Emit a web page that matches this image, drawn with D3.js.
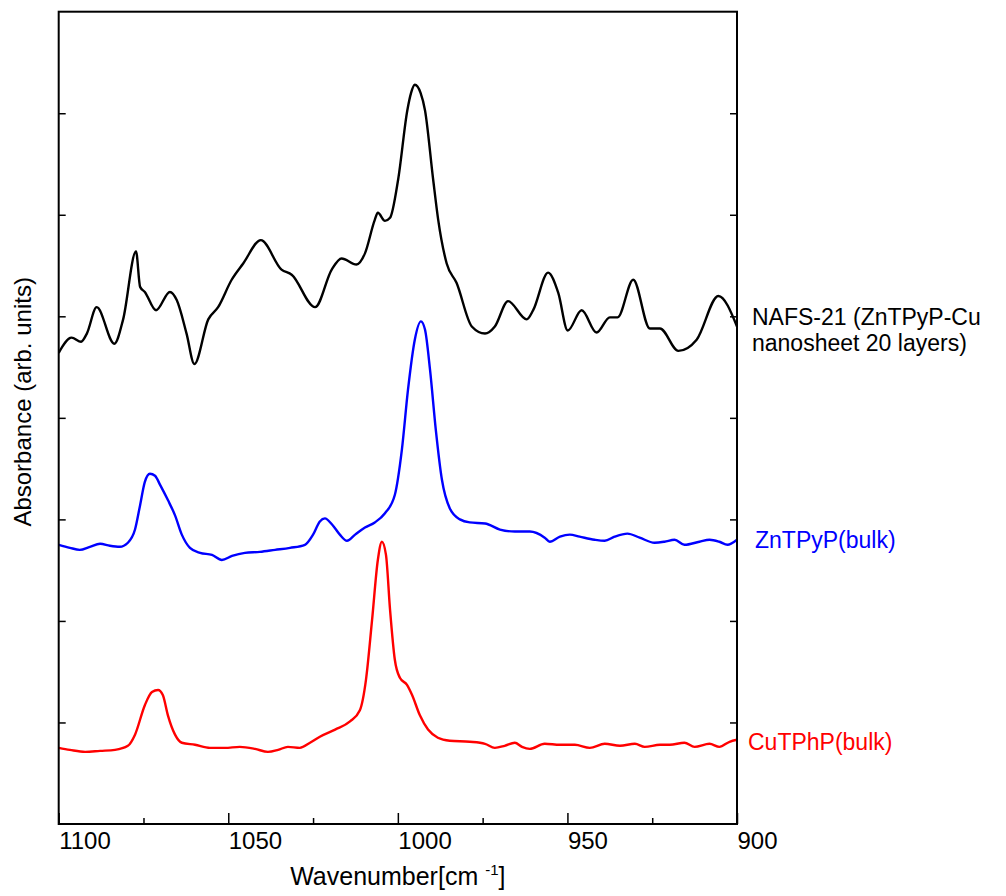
<!DOCTYPE html>
<html>
<head>
<meta charset="utf-8">
<script src="https://cdn.jsdelivr.net/npm/d3@7"></script>
<style>
  body { margin: 0; background: #fff; }
  text { font-family: "Liberation Sans", Arial, sans-serif; }
</style>
</head>
<body>
<svg id="chart" width="1006" height="896"></svg>
<script>
// wavenumber [cm-1], absorbance (arb. units, offset traces)
const nafsData = [
  [1100.0, 4.64], [1096.2, 4.79], [1093.4, 4.75], [1091.7, 4.83], [1088.8, 5.09],
  [1083.6, 4.73], [1081.0, 4.97], [1077.2, 5.64], [1076.0, 5.29], [1074.6, 5.24],
  [1071.3, 5.06], [1067.2, 5.24], [1065.2, 5.16], [1062.3, 4.83], [1060.0, 4.53],
  [1055.9, 4.97], [1053.0, 5.09], [1049.0, 5.36], [1045.6, 5.52], [1040.4, 5.75],
  [1034.3, 5.46], [1031.3, 5.41], [1024.4, 5.09], [1019.5, 5.46], [1016.6, 5.57],
  [1012.2, 5.51], [1009.7, 5.62], [1006.8, 5.95], [1005.9, 6.02], [1003.8, 5.94],
  [1002.3, 5.97], [999.9, 6.35], [997.2, 7.03], [996.1, 7.20], [995.0, 7.28],
  [993.3, 7.20], [992.0, 7.03], [989.6, 6.35], [988.1, 5.95], [985.6, 5.52],
  [982.7, 5.33], [978.2, 4.90], [974.3, 4.83], [971.4, 4.90], [967.5, 5.15],
  [962.0, 4.97], [960.1, 5.06], [955.7, 5.43], [952.7, 5.23], [949.9, 4.86],
  [945.8, 5.06], [941.4, 4.84], [937.5, 4.99], [935.2, 4.99], [930.6, 5.36],
  [925.7, 4.88], [922.7, 4.88], [917.3, 4.66], [911.9, 4.77], [905.5, 5.20],
  [900.0, 4.90]
]

const znData = [
  [1100.0, 2.75], [1096.7, 2.72], [1093.8, 2.70], [1090.8, 2.73], [1087.8, 2.76],
  [1084.9, 2.74], [1082.0, 2.73], [1079.6, 2.77], [1077.5, 2.90], [1076.0, 3.14],
  [1074.6, 3.37], [1073.1, 3.45], [1071.6, 3.43], [1070.1, 3.34], [1067.8, 3.19],
  [1065.7, 3.04], [1063.7, 2.85], [1061.3, 2.72], [1058.3, 2.67], [1054.8, 2.65],
  [1051.9, 2.60], [1048.9, 2.64], [1045.1, 2.67], [1040.7, 2.68], [1036.2, 2.70],
  [1031.8, 2.72], [1027.4, 2.75], [1025.0, 2.85], [1023.0, 2.98], [1021.5, 3.01],
  [1019.4, 2.95], [1017.1, 2.85], [1015.0, 2.79], [1012.6, 2.85], [1009.7, 2.92],
  [1006.8, 2.97], [1003.8, 3.06], [1000.9, 3.24], [998.8, 3.69], [997.0, 4.28],
  [995.0, 4.77], [993.2, 4.95], [992.0, 4.87], [990.5, 4.47], [988.8, 3.88],
  [987.0, 3.39], [984.7, 3.11], [981.7, 3.00], [978.8, 2.97], [974.3, 2.96],
  [969.9, 2.90], [965.5, 2.88], [961.1, 2.88], [956.7, 2.82], [955.2, 2.78],
  [952.2, 2.83], [949.3, 2.85], [946.4, 2.83], [942.0, 2.80], [939.0, 2.79],
  [936.1, 2.83], [932.3, 2.86], [928.7, 2.82], [924.3, 2.77], [921.4, 2.78],
  [918.4, 2.80], [915.5, 2.75], [911.1, 2.78], [908.1, 2.80], [905.2, 2.78],
  [902.8, 2.75], [900.0, 2.80]
]

const cuData = [
  [1100.0, 0.75], [1096.7, 0.73], [1092.2, 0.71], [1087.8, 0.72], [1083.4, 0.73],
  [1079.6, 0.77], [1077.5, 0.88], [1074.6, 1.17], [1072.5, 1.30], [1070.7, 1.32],
  [1069.3, 1.27], [1067.8, 1.07], [1065.7, 0.88], [1063.7, 0.80], [1059.8, 0.78],
  [1055.4, 0.75], [1051.0, 0.75], [1046.6, 0.76], [1042.1, 0.74], [1038.3, 0.71],
  [1035.3, 0.73], [1032.4, 0.76], [1028.9, 0.75], [1025.9, 0.80], [1023.0, 0.86],
  [1018.5, 0.93], [1014.1, 1.01], [1011.2, 1.12], [1009.4, 1.42], [1007.6, 2.01],
  [1005.9, 2.60], [1004.7, 2.78], [1003.5, 2.65], [1002.3, 2.11], [1000.9, 1.62],
  [999.4, 1.44], [997.3, 1.37], [995.8, 1.27], [993.5, 1.07], [991.1, 0.93],
  [988.2, 0.85], [984.7, 0.82], [978.8, 0.81], [974.3, 0.79], [971.4, 0.75],
  [968.5, 0.77], [965.5, 0.80], [963.4, 0.76], [961.1, 0.74], [956.7, 0.79],
  [952.2, 0.78], [947.8, 0.78], [943.4, 0.75], [939.0, 0.79], [934.5, 0.77],
  [930.1, 0.79], [927.2, 0.76], [922.7, 0.78], [919.8, 0.78], [915.5, 0.80],
  [912.5, 0.76], [908.1, 0.79], [905.2, 0.76], [902.2, 0.81], [900.0, 0.83]
]

const xMajorTicks = [1100, 1050, 1000, 950, 900]
const xMinorTicks = [1075, 1025, 975, 925]
const yTicks = [1, 2, 3, 4, 5, 6, 7]

const series = [
  { data: nafsData, color: '#000000', label: ['NAFS-21 (ZnTPyP-Cu', 'nanosheet 20 layers)'], at: 4.91, dx: 15 },
  { data: znData, color: '#0000ff', label: ['ZnTPyP(bulk)'], at: 2.72, dx: 18 },
  { data: cuData, color: '#ff0000', label: ['CuTPhP(bulk)'], at: 0.73, dx: 11 }
]

const margin = { top: 11.7, right: 269, bottom: 72, left: 58.7 }
const width = 1006 - margin.left - margin.right
const height = 896 - margin.top - margin.bottom

const svg = d3.select('#chart')
const g = svg.append('g')
  .attr('transform', `translate(${margin.left},${margin.top})`)

const x = d3.scaleLinear().domain([1100, 900]).range([0, width])
const y = d3.scaleLinear().domain([0, 8]).range([height, 0])

g.append('clipPath').attr('id', 'clip')
  .append('rect').attr('width', width).attr('height', height)

const line = d3.line()
  .x(d => x(d[0]))
  .y(d => y(d[1]))
  .curve(d3.curveMonotoneX)

series.forEach(s => {
  g.append('path')
    .datum(s.data)
    .attr('clip-path', 'url(#clip)')
    .attr('fill', 'none')
    .attr('stroke', s.color)
    .attr('stroke-width', 2.4)
    .attr('stroke-linejoin', 'round')
    .attr('d', line)

  const t = g.append('text')
    .attr('x', width + s.dx)
    .attr('y', y(s.at))
    .attr('fill', s.color)
    .style('font-size', '23px')
  s.label.forEach((l, i) => {
    t.append('tspan')
      .attr('x', width + s.dx)
      .attr('dy', i === 0 ? 0 : 26)
      .text(l)
  })
})

// frame
g.append('rect')
  .attr('width', width).attr('height', height)
  .attr('fill', 'none').attr('stroke', '#000').attr('stroke-width', 2)

// x axis ticks point inward
const xAxis = d3.axisBottom(x)
  .tickValues(xMajorTicks)
  .tickSize(-11)
  .tickFormat(d3.format('d'))
const gx = g.append('g')
  .attr('transform', `translate(0,${height})`)
  .call(xAxis)
gx.select('.domain').remove()
gx.selectAll('line').attr('stroke-width', 1.5)
gx.selectAll('text')
  .attr('text-anchor', 'start')
  .attr('dy', null)
  .attr('y', 25)
  .attr('fill', '#000')
  .style('font-size', '24px')

const gxm = g.append('g')
  .attr('transform', `translate(0,${height})`)
  .call(d3.axisBottom(x).tickValues(xMinorTicks).tickSize(-6).tickFormat(''))
gxm.select('.domain').remove()
gxm.selectAll('line').attr('stroke-width', 1.5)

const gyl = g.append('g')
  .call(d3.axisLeft(y).tickValues(yTicks).tickSize(-7).tickFormat(''))
gyl.select('.domain').remove()
gyl.selectAll('line').attr('stroke-width', 1.5)

const gyr = g.append('g')
  .attr('transform', `translate(${width},0)`)
  .call(d3.axisRight(y).tickValues(yTicks).tickSize(-7).tickFormat(''))
gyr.select('.domain').remove()
gyr.selectAll('line').attr('stroke-width', 1.5)

// axis titles
const xt = svg.append('text')
  .attr('x', margin.left + width / 2)
  .attr('y', 885)
  .attr('text-anchor', 'middle')
  .style('font-size', '25px')
xt.append('tspan').text('Wavenumber[cm ')
xt.append('tspan').attr('dy', -10).style('font-size', '15px').text('-1')
xt.append('tspan').attr('dy', 10).text(']')

svg.append('text')
  .attr('transform', `translate(31,${margin.top + height / 2 - 16}) rotate(-90)`)
  .attr('text-anchor', 'middle')
  .style('font-size', '24px')
  .text('Absorbance (arb. units)')
</script>
</body>
</html>
